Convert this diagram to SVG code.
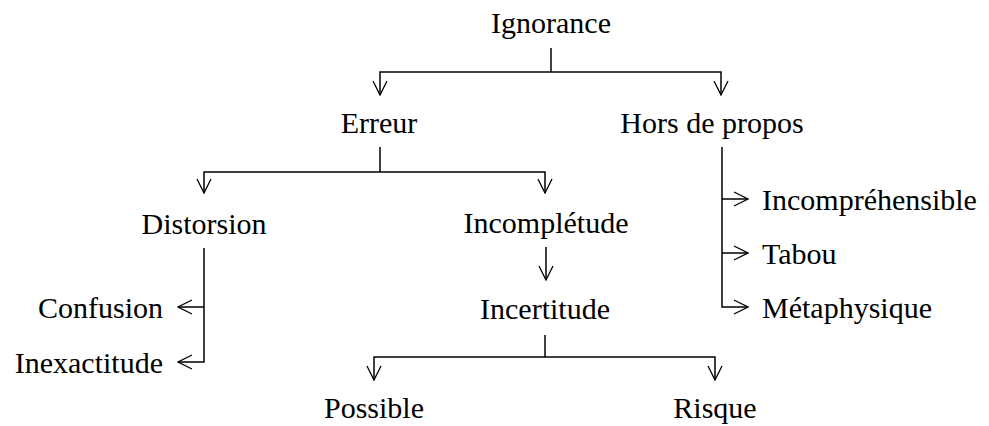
<svg xmlns="http://www.w3.org/2000/svg" width="989" height="426" viewBox="0 0 989 426">
<defs>
<style>
text{font-family:"Liberation Serif","Times New Roman",serif;font-size:30px;fill:#000}
.c{text-anchor:middle}
.e{text-anchor:end}
.ln{fill:none;stroke:#000;stroke-width:1.5}
</style>
<marker id="ah" viewBox="0 0 16 16" refX="15" refY="8" markerWidth="16" markerHeight="16" orient="auto" markerUnits="userSpaceOnUse">
<path d="M1,1 L15,8 L1,15" fill="none" stroke="#000" stroke-width="1.3"/>
</marker>
</defs>
<rect width="989" height="426" fill="#fff"/>
<g id="connectors">
<path class="ln" d="M551,48 V72"/>
<path class="ln" d="M551,72 H380 V95" marker-end="url(#ah)"/>
<path class="ln" d="M551,72 H721 V95" marker-end="url(#ah)"/>
<path class="ln" d="M380,147 V172"/>
<path class="ln" d="M380,172 H204 V193" marker-end="url(#ah)"/>
<path class="ln" d="M380,172 H545 V193" marker-end="url(#ah)"/>
<path class="ln" d="M722,147 V307 H748" marker-end="url(#ah)"/>
<path class="ln" d="M722,199 H748" marker-end="url(#ah)"/>
<path class="ln" d="M722,253 H748" marker-end="url(#ah)"/>
<path class="ln" d="M204,248 V362 H178" marker-end="url(#ah)"/>
<path class="ln" d="M204,307 H178" marker-end="url(#ah)"/>
<path class="ln" d="M546,247 V280" marker-end="url(#ah)"/>
<path class="ln" d="M545,335 V357"/>
<path class="ln" d="M545,357 H374 V380" marker-end="url(#ah)"/>
<path class="ln" d="M545,357 H715 V380" marker-end="url(#ah)"/>
</g>
<g id="ignorance"><text class="c" x="551" y="33">Ignorance</text></g>
<g id="erreur"><text class="c" x="379" y="133">Erreur</text></g>
<g id="hors-de-propos"><text class="c" x="712" y="133">Hors de propos</text></g>
<g id="distorsion"><text class="c" x="204" y="234">Distorsion</text></g>
<g id="incompletude"><text class="c" x="546" y="233">Incomplétude</text></g>
<g id="incertitude"><text class="c" x="545" y="319">Incertitude</text></g>
<g id="confusion"><text class="e" x="163" y="318">Confusion</text></g>
<g id="inexactitude"><text class="e" x="163" y="373">Inexactitude</text></g>
<g id="incomprehensible"><text x="762" y="210">Incompréhensible</text></g>
<g id="tabou"><text x="762" y="264">Tabou</text></g>
<g id="metaphysique"><text x="762" y="318">Métaphysique</text></g>
<g id="possible"><text class="c" x="374" y="418">Possible</text></g>
<g id="risque"><text class="c" x="715" y="418">Risque</text></g>
</svg>
